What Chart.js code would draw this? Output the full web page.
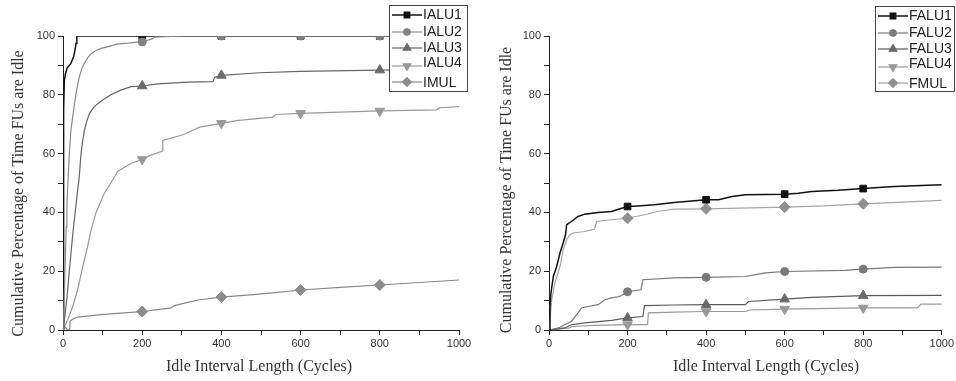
<!DOCTYPE html>
<html>
<head>
<meta charset="utf-8">
<script src="https://cdn.jsdelivr.net/npm/chart.js"></script>
<style>
  html, body { margin: 0; padding: 0; background: #fff; }
  #wrap { position: relative; width: 956px; height: 381px; }
  .pane { position: absolute; top: 0; width: 478px; height: 381px; }
</style>
</head>
<body>
<div id="wrap">
  <div class="pane" style="left:0"><canvas id="chartInt"></canvas></div>
  <div class="pane" style="left:478px"><canvas id="chartFp"></canvas></div>
</div>
<script>
// axis text
const xTitle = 'Idle Interval Length (Cycles)';
const yTitle = 'Cumulative Percentage of Time FUs are Idle';
const xTicks = [0, 200, 400, 600, 800, 1000];
const yTicks = [0, 20, 40, 60, 80, 100];
const markerX = [200, 400, 600, 800];

// integer units (left panel)
const ialu1X = [0, 1, 2, 3.5, 6, 10, 20, 27, 30, 33, 35, 200, 400, 600, 800, 1000];
const ialu1Y = [0, 40, 75, 85, 87, 89, 90.7, 93, 95, 97.5, 100, 100, 100, 100, 100, 100];

const ialu2X = [0, 2, 4, 6, 8, 10, 12, 16, 20, 25, 29, 35, 41, 48, 54, 62, 71, 82, 96, 115, 138, 165, 193, 200, 214, 225, 231, 260, 306, 400, 600, 800, 1000];
const ialu2Y = [0, 5, 15, 25, 35, 43, 49, 60, 68, 73, 77, 82, 86, 89, 90.7, 92.5, 94, 95, 95.8, 96.4, 97.3, 97.6, 98, 98, 98.6, 99, 99.6, 99.8, 100, 100, 100, 100, 100];

const ialu3X = [0, 5, 10, 17, 25, 34, 41, 45.5, 50, 54, 60, 67, 79, 100, 121, 146, 172, 200, 239, 315, 379, 383, 395, 400, 497, 598, 800, 1000];
const ialu3Y = [0, 5, 11, 21.6, 33, 44, 52, 60, 64.5, 68, 71, 73.7, 76, 78.2, 80, 81.6, 82.8, 83, 83.7, 84.3, 84.5, 86, 86.4, 86.6, 87.5, 88, 88.4, 88.9];

const ialu4X = [0, 3.5, 12, 24.5, 37, 50, 62, 71, 83, 104.5, 125.5, 138, 172, 200, 219, 250, 252, 303, 345, 400, 438, 530, 537, 600, 800, 943, 951, 1000];
const ialu4Y = [0, 1.2, 3.5, 8, 13.7, 21.6, 28.4, 34, 39.8, 46.5, 51, 53.9, 56.7, 58, 59.3, 60.8, 64.5, 66.4, 69, 70.3, 71.2, 72.4, 73.3, 73.7, 74.5, 74.9, 75.6, 76];

const imulX = [0, 6, 12, 17, 18, 25, 37, 96, 155, 200, 239, 273, 281, 315, 345, 400, 480, 530, 600, 700, 800, 1000];
const imulY = [0, 1, 0, 0, 3, 3.7, 4.4, 5.2, 5.8, 6.3, 6.9, 7.5, 8.3, 9.4, 10.3, 11.2, 12, 12.6, 13.6, 14.5, 15.3, 17];

// floating point units (right panel)
const falu1X = [0, 2.5, 5, 11, 19.5, 28, 36, 42, 45, 57, 74, 91, 125, 159, 175, 200, 226, 268, 319, 400, 432, 466, 500, 600, 635, 669, 736, 800, 879, 1000];
const falu1Y = [0, 8, 12.6, 18.2, 21.6, 26.2, 29.6, 32.4, 35.8, 36.9, 38.6, 39.4, 40, 40.3, 41, 42, 42.2, 42.6, 43.4, 44.3, 44.3, 45.4, 46, 46.2, 46.5, 47.1, 47.5, 48.1, 48.8, 49.4];

const falu2X = [0, 24, 40, 57, 74, 83, 99, 125, 142, 159, 180, 200, 234, 239, 319, 400, 500, 551, 600, 753, 800, 879, 1000];
const falu2Y = [0, 0.7, 1.8, 2.9, 5.8, 7.5, 8, 8.6, 10.3, 10.9, 11.4, 13, 13.7, 17.1, 17.7, 17.9, 18.2, 19.4, 19.9, 20.3, 20.7, 21.3, 21.4];

const falu3X = [0, 40, 57, 91, 159, 200, 239, 243, 319, 400, 500, 508, 600, 669, 800, 1000];
const falu3Y = [0, 0.7, 1.8, 2.4, 3.3, 4.1, 4.6, 8.3, 8.5, 8.6, 8.6, 9.7, 10.5, 11.1, 11.7, 11.8];

const falu4X = [0, 53, 57, 116, 200, 251, 253, 319, 400, 500, 510, 600, 800, 938, 947, 1000];
const falu4Y = [0, 0.7, 1.2, 1.6, 1.8, 1.8, 5.8, 6.1, 6.3, 6.3, 6.8, 7.1, 7.5, 7.5, 8.8, 8.8];

const fmulX = [0, 7, 15, 28, 36, 45, 53, 61, 91, 116, 121, 159, 200, 243, 276, 319, 400, 600, 700, 800, 1000];
const fmulY = [0, 10.3, 16, 21.6, 27.3, 30.7, 32.4, 33, 33.5, 34.3, 36.9, 37.5, 38, 39.2, 40.3, 41.1, 41.2, 41.8, 42.2, 42.9, 44.1];

const pts = (xs, ys) => xs.map((x, i) => ({ x, y: ys[i] }));

function series(label, xs, ys, line, mark, style, r, extra) {
  return Object.assign({
    label,
    data: pts(xs, ys),
    borderColor: line,
    backgroundColor: mark,
    borderWidth: 1.2,
    pointStyle: style,
    pointBackgroundColor: mark,
    pointBorderColor: mark,
    pointBorderWidth: 1,
    markerRadius: r,
    pointRadius: ctx => (ctx.raw && markerX.includes(ctx.raw.x)) ? r : 0,
    pointHoverRadius: 0,
    tension: 0
  }, extra || {});
}

const boxLegend = {
  id: 'boxLegend',
  afterDraw(chart, args, o) {
    const ctx = chart.ctx;
    ctx.save();
    ctx.fillStyle = '#fff';
    ctx.fillRect(o.x, o.y, o.w, o.h);
    ctx.strokeStyle = '#444';
    ctx.lineWidth = 1;
    ctx.strokeRect(o.x + 0.5, o.y + 0.5, o.w, o.h);
    chart.data.datasets.forEach((ds, i) => {
      const ly = o.y + o.lineRows[i];
      const ty = o.y + o.textRows[i];
      ctx.strokeStyle = ds.borderColor;
      ctx.lineWidth = ds.borderWidth;
      ctx.beginPath();
      ctx.moveTo(o.x + 3, ly);
      ctx.lineTo(o.x + 33, ly);
      ctx.stroke();
      ctx.fillStyle = ds.pointBackgroundColor;
      ctx.strokeStyle = ds.pointBackgroundColor;
      Chart.helpers.drawPoint(ctx, { pointStyle: ds.pointStyle, rotation: ds.rotation || 0, radius: ds.markerRadius * 0.8, borderWidth: 1 }, o.x + 18, ly);
      ctx.fillStyle = '#222';
      ctx.font = '14px "Liberation Sans", Arial, sans-serif';
      ctx.textAlign = 'left';
      ctx.textBaseline = 'middle';
      ctx.fillText(ds.label, o.x + 34, ty);
    });
    ctx.restore();
  }
};

const axisTitles = {
  id: 'axisTitles',
  afterDraw(chart, args, o) {
    const ctx = chart.ctx;
    ctx.save();
    ctx.font = '16px "Liberation Serif", "Times New Roman", serif';
    ctx.fillStyle = '#333';
    ctx.textAlign = 'center';
    ctx.textBaseline = 'middle';
    ctx.fillText(xTitle, o.xAt[0], o.xAt[1]);
    ctx.translate(o.yAt[0], o.yAt[1]);
    ctx.rotate(-Math.PI / 2);
    ctx.fillText(yTitle, 0, 0);
    ctx.restore();
  }
};

const tickFont = { family: '"Liberation Sans", Arial, sans-serif', size: 11 };

function makeOptions(yWidth, padRight, legendBox, xAt, yAt) {
  return {
    responsive: true,
    maintainAspectRatio: false,
    animation: false,
    devicePixelRatio: 1,
    layout: { padding: { top: 36, right: padRight, bottom: 0, left: 0 } },
    plugins: {
      legend: { display: false },
      tooltip: { enabled: false },
      boxLegend: legendBox,
      axisTitles: { xAt, yAt }
    },
    scales: {
      x: {
        type: 'linear', min: 0, max: 1000,
        ticks: { stepSize: 100, autoSkip: false, maxRotation: 0, padding: 2, color: '#333', font: tickFont,
                 callback: v => xTicks.includes(v) ? v : '' },
        grid: { drawOnChartArea: false, drawTicks: true, tickLength: 5, color: '#222' },
        border: { color: '#222', width: 1 },
        afterFit: s => { s.height = 51; }
      },
      y: {
        min: 0, max: 100,
        ticks: { stepSize: 10, padding: 3, color: '#333', font: tickFont,
                 callback: v => yTicks.includes(v) ? v : '' },
        grid: { drawOnChartArea: false, drawTicks: true, tickLength: 5, color: '#222' },
        border: { color: '#222', width: 1 },
        afterFit: s => { s.width = yWidth; }
      }
    }
  };
}

const rowsLine = [10, 27, 43, 61, 77];
const rowsText = [10, 27, 43, 58, 78];

new Chart(document.getElementById('chartInt'), {
  type: 'line',
  data: {
    datasets: [
      series('IALU1', ialu1X, ialu1Y, '#111', '#111', 'rect', 4.7, { borderWidth: 1.5, order: 1 }),
      series('IALU2', ialu2X, ialu2Y, '#8a8a8a', '#808080', 'circle', 4, { order: 0 }),
      series('IALU3', ialu3X, ialu3Y, '#666', '#6a6a6a', 'triangle', 5.5, { order: 2 }),
      series('IALU4', ialu4X, ialu4Y, '#9a9a9a', '#999', 'triangle', 5.5, { rotation: 180, order: 3 }),
      series('IMUL', imulX, imulY, '#888', '#8c8c8c', 'rectRot', 5.5, { order: 4 })
    ]
  },
  options: makeOptions(63, 19, { x: 389, y: 5, w: 78, h: 86, lineRows: rowsLine, textRows: rowsText }, [259, 367], [18.5, 193.5]),
  plugins: [boxLegend, axisTitles]
});

new Chart(document.getElementById('chartFp'), {
  type: 'line',
  data: {
    datasets: [
      series('FALU1', falu1X, falu1Y, '#111', '#111', 'rect', 4.7, { borderWidth: 1.5 }),
      series('FALU2', falu2X, falu2Y, '#777', '#7a7a7a', 'circle', 4),
      series('FALU3', falu3X, falu3Y, '#5a5a5a', '#6a6a6a', 'triangle', 5.5),
      series('FALU4', falu4X, falu4Y, '#999', '#999', 'triangle', 5.5, { rotation: 180 }),
      series('FMUL', fmulX, fmulY, '#a5a5a5', '#909090', 'rectRot', 5.5)
    ]
  },
  options: makeOptions(71, 12, { x: 397, y: 6, w: 79, h: 85, lineRows: rowsLine, textRows: rowsText }, [288, 367], [28.5, 190]),
  plugins: [boxLegend, axisTitles]
});
</script>
</body>
</html>
